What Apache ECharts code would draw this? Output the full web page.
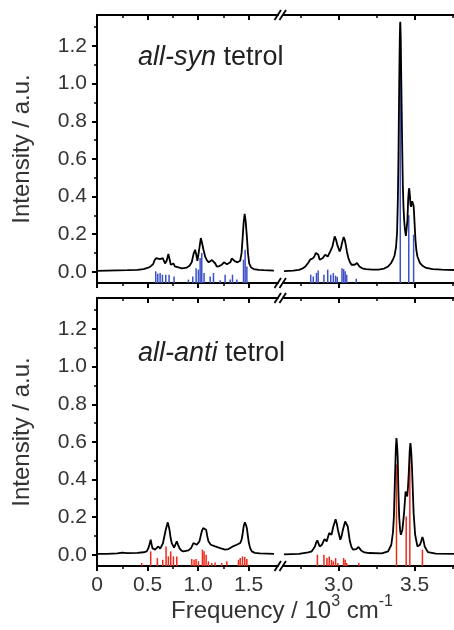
<!DOCTYPE html>
<html><head><meta charset="utf-8">
<script src="https://cdn.jsdelivr.net/npm/echarts@6/dist/echarts.min.js"></script>
<style>html,body{margin:0;padding:0;background:#fff}#c{width:454px;height:630px}</style>
</head><body><div id="c"></div>
<script>
// ---------- data ----------
const xLowTicks = [0, 0.5, 1.0, 1.5];
const xLowMinor = [0.25, 0.75, 1.25];
const xHighTicks = [3.0, 3.5];
const xHighMinor = [2.75, 3.25, 3.75];
const yTicks = [0, 0.2, 0.4, 0.6, 0.8, 1.0, 1.2];
const yMinor = [0.1, 0.3, 0.5, 0.7, 0.9, 1.1, 1.3];
const panelNames = ['all-syn', 'all-anti'];

const synLow = [[0.00,0.005],[0.10,0.006],[0.20,0.007],[0.30,0.008],[0.40,0.010],[0.46,0.014],[0.50,0.020],[0.53,0.028],[0.555,0.040],[0.568,0.060],[0.584,0.072],[0.60,0.068],[0.624,0.067],[0.65,0.072],[0.673,0.044],[0.69,0.06],[0.706,0.094],[0.716,0.07],[0.73,0.037],[0.745,0.045],[0.756,0.044],[0.77,0.028],[0.789,0.02],[0.84,0.018],[0.888,0.022],[0.915,0.032],[0.937,0.05],[0.955,0.095],[0.970,0.117],[0.982,0.09],[0.993,0.058],[1.008,0.11],[1.027,0.179],[1.040,0.150],[1.053,0.117],[1.07,0.08],[1.086,0.062],[1.105,0.05],[1.119,0.046],[1.137,0.062],[1.152,0.07],[1.168,0.045],[1.185,0.027],[1.21,0.03],[1.234,0.037],[1.255,0.05],[1.267,0.053],[1.285,0.04],[1.30,0.032],[1.318,0.05],[1.333,0.07],[1.35,0.06],[1.366,0.055],[1.39,0.05],[1.416,0.058],[1.43,0.10],[1.439,0.17],[1.450,0.26],[1.460,0.308],[1.470,0.27],[1.482,0.188],[1.493,0.10],[1.505,0.044],[1.525,0.022],[1.55,0.014],[1.60,0.010],[1.65,0.008],[1.75,0.006]];
const synSticksLow = [[0.581,0.002],[0.601,-0.011],[0.624,-0.007],[0.647,-0.016],[0.680,-0.016],[0.713,-0.016],[0.762,-0.025],[0.904,-0.042],[0.947,-0.025],[0.980,0.019],[1.003,0.011],[1.020,0.073],[1.036,0.099],[1.059,-0.007],[1.119,-0.025],[1.152,-0.007],[1.218,-0.046],[1.267,-0.016],[1.317,-0.042],[1.340,-0.016],[1.383,-0.042],[1.449,0.064],[1.465,0.117],[1.482,0.028]];
const synHigh = [[2.64,0.003],[2.70,0.006],[2.739,0.010],[2.76,0.016],[2.781,0.028],[2.80,0.048],[2.812,0.064],[2.828,0.07],[2.84,0.081],[2.85,0.10],[2.858,0.108],[2.866,0.09],[2.875,0.064],[2.886,0.07],[2.896,0.073],[2.911,0.09],[2.928,0.081],[2.945,0.108],[2.959,0.134],[2.974,0.188],[2.983,0.17],[2.991,0.143],[3.007,0.108],[3.015,0.125],[3.022,0.152],[3.033,0.184],[3.040,0.17],[3.047,0.143],[3.055,0.105],[3.064,0.073],[3.075,0.05],[3.085,0.037],[3.106,0.037],[3.121,0.046],[3.137,0.028],[3.155,0.018],[3.179,0.014],[3.22,0.011],[3.263,0.011],[3.30,0.017],[3.326,0.028],[3.345,0.045],[3.358,0.065],[3.368,0.085],[3.378,0.13],[3.385,0.21],[3.390,0.38],[3.394,0.60],[3.399,1.00],[3.403,1.25],[3.406,1.329],[3.409,1.25],[3.413,1.00],[3.419,0.648],[3.423,0.46],[3.427,0.347],[3.432,0.27],[3.437,0.223],[3.443,0.19],[3.448,0.184],[3.453,0.27],[3.458,0.382],[3.462,0.43],[3.465,0.444],[3.469,0.41],[3.473,0.36],[3.477,0.345],[3.481,0.36],[3.485,0.375],[3.489,0.382],[3.494,0.35],[3.498,0.294],[3.502,0.23],[3.506,0.17],[3.512,0.115],[3.519,0.081],[3.536,0.046],[3.555,0.03],[3.577,0.02],[3.62,0.014],[3.68,0.011],[3.76,0.009]];
const synSticksHigh = [[2.816,-0.016],[2.833,-0.025],[2.854,-0.007],[2.865,0.007],[2.903,-0.016],[2.928,0.011],[2.948,-0.016],[2.965,-0.007],[2.980,-0.021],[2.991,-0.028],[3.022,0.019],[3.033,0.014],[3.043,0.002],[3.053,-0.016],[3.116,-0.037],[3.406,1.32],[3.462,0.30],[3.494,0.197]];

const antiLow = [[0.00,0.004],[0.10,0.005],[0.20,0.007],[0.25,0.011],[0.30,0.008],[0.40,0.010],[0.46,0.013],[0.492,0.018],[0.508,0.035],[0.518,0.053],[0.531,0.080],[0.540,0.055],[0.548,0.035],[0.574,0.027],[0.59,0.035],[0.607,0.044],[0.625,0.032],[0.64,0.030],[0.652,0.06],[0.663,0.089],[0.683,0.14],[0.700,0.172],[0.716,0.135],[0.728,0.09],[0.739,0.062],[0.762,0.038],[0.776,0.055],[0.789,0.071],[0.80,0.055],[0.815,0.035],[0.835,0.022],[0.855,0.018],[0.904,0.023],[0.93,0.035],[0.954,0.062],[0.97,0.058],[0.987,0.053],[1.013,0.071],[1.036,0.124],[1.050,0.142],[1.062,0.145],[1.079,0.133],[1.09,0.10],[1.102,0.071],[1.125,0.053],[1.168,0.044],[1.218,0.035],[1.267,0.027],[1.30,0.030],[1.343,0.044],[1.383,0.053],[1.416,0.062],[1.430,0.08],[1.439,0.106],[1.450,0.15],[1.462,0.172],[1.472,0.16],[1.482,0.142],[1.492,0.10],[1.502,0.062],[1.515,0.035],[1.531,0.018],[1.56,0.010],[1.61,0.007],[1.75,0.005]];
const antiSticksLow = [[0.442,-0.044],[0.531,0.018],[0.597,-0.018],[0.650,-0.027],[0.683,0.044],[0.706,-0.009],[0.729,0.018],[0.756,-0.009],[0.789,-0.009],[0.937,-0.023],[0.960,-0.027],[0.980,-0.023],[1.003,-0.035],[1.043,0.027],[1.059,0.018],[1.079,0.0],[1.102,-0.035],[1.135,-0.044],[1.168,-0.041],[1.234,-0.044],[1.284,-0.035],[1.399,-0.027],[1.416,-0.018],[1.439,-0.009],[1.462,-0.012],[1.482,-0.023]];
const antiHigh = [[2.64,0.002],[2.739,0.004],[2.80,0.012],[2.823,0.018],[2.844,0.044],[2.852,0.065],[2.860,0.076],[2.867,0.06],[2.875,0.044],[2.890,0.053],[2.907,0.083],[2.921,0.071],[2.938,0.115],[2.953,0.106],[2.965,0.150],[2.980,0.189],[2.988,0.165],[2.995,0.133],[3.011,0.080],[3.020,0.10],[3.028,0.133],[3.043,0.177],[3.052,0.168],[3.060,0.150],[3.067,0.11],[3.074,0.071],[3.085,0.04],[3.096,0.027],[3.116,0.030],[3.131,0.041],[3.148,0.023],[3.17,0.012],[3.20,0.009],[3.284,0.007],[3.326,0.018],[3.347,0.053],[3.358,0.12],[3.364,0.203],[3.372,0.434],[3.377,0.57],[3.381,0.620],[3.385,0.58],[3.389,0.522],[3.394,0.33],[3.399,0.20],[3.405,0.13],[3.410,0.106],[3.420,0.133],[3.431,0.221],[3.441,0.336],[3.447,0.34],[3.452,0.310],[3.457,0.36],[3.462,0.434],[3.468,0.55],[3.473,0.593],[3.478,0.55],[3.483,0.469],[3.494,0.221],[3.504,0.106],[3.519,0.044],[3.536,0.053],[3.545,0.075],[3.552,0.094],[3.559,0.075],[3.567,0.044],[3.588,0.014],[3.64,0.006],[3.76,0.004]];
const antiSticksHigh = [[2.860,0.0],[2.903,0.0],[2.923,-0.018],[2.938,-0.009],[2.953,-0.027],[2.965,-0.035],[2.980,-0.018],[2.995,-0.044],[3.033,-0.018],[3.043,-0.027],[3.053,-0.044],[3.133,-0.044],[3.381,0.48],[3.445,0.203],[3.469,0.575],[3.552,0.027]];

// ---------- layout ----------
const FONT = '"Liberation Sans", Arial, sans-serif';
const TXT = '#333';
const YMIN = -0.06, YMAX = 1.365;
const X_LOW = [0, 1.79], X_HIGH = [2.64, 3.76];
const G = { l0: 97, w0: 181, l1: 284, w1: 178, h: 268, tops: [15, 298] };
const curves = [[synLow, synHigh], [antiLow, antiHigh]];
const sticks = [[synSticksLow, synSticksHigh], [antiSticksLow, antiSticksHigh]];
const stickColors = ['#3c50c8', '#f02818'];

const grids = [], xAxes = [], yAxes = [], series = [];
const fmtX = v => v === 0 ? '0' : v.toFixed(1);
const blk = { color: '#000', width: 2 };
const thin = { color: '#000', width: 1.5 };

[0, 1].forEach(p => {
  [0, 1].forEach(s => {
    const gi = grids.length;
    grids.push({ left: s ? G.l1 : G.l0, top: G.tops[p], width: s ? G.w1 : G.w0, height: G.h });
    const [min, max] = s ? X_HIGH : X_LOW;
    const major = s ? xHighTicks : xLowTicks;
    const minor = s ? xHighMinor : xLowMinor;
    const base = { type: 'value', gridIndex: gi, min, max, splitLine: { show: false }, axisPointer: { show: false } };
    const xi = xAxes.length;
    xAxes.push(
      { ...base, position: 'bottom', axisLine: { show: true, onZero: false, lineStyle: blk },
        axisTick: { show: true, inside: false, length: 5, customValues: major, lineStyle: blk },
        axisLabel: { show: p === 1, customValues: major, formatter: fmtX, margin: 9, fontSize: 21, color: TXT, fontFamily: FONT } },
      { ...base, position: 'bottom', axisLine: { show: false, onZero: false },
        axisTick: { show: true, inside: false, length: 3, customValues: minor, lineStyle: thin },
        axisLabel: { show: false } },
      { ...base, position: 'top', axisLine: { show: true, onZero: false, lineStyle: blk },
        axisTick: { show: true, inside: true, length: 5, customValues: major, lineStyle: blk },
        axisLabel: { show: false } },
      { ...base, position: 'top', axisLine: { show: false, onZero: false },
        axisTick: { show: true, inside: true, length: 3, customValues: minor, lineStyle: thin },
        axisLabel: { show: false } }
    );
    const yi = yAxes.length;
    const ybase = { type: 'value', gridIndex: gi, min: YMIN, max: YMAX, splitLine: { show: false }, axisPointer: { show: false } };
    if (s === 0) {
      yAxes.push(
        { ...ybase, position: 'left', axisLine: { show: true, onZero: false, lineStyle: blk },
          axisTick: { show: true, inside: false, length: 5, customValues: yTicks, lineStyle: blk },
          axisLabel: { customValues: yTicks, formatter: v => v.toFixed(1), margin: 10, fontSize: 21, color: TXT, fontFamily: FONT },
          name: 'Intensity / a.u.', nameLocation: 'middle', nameGap: 63,
          nameTextStyle: { fontSize: 24, color: TXT, fontFamily: FONT } },
        { ...ybase, position: 'left', axisLine: { show: false, onZero: false },
          axisTick: { show: true, inside: false, length: 3, customValues: yMinor, lineStyle: thin },
          axisLabel: { show: false } }
      );
    } else {
      yAxes.push({ ...ybase, show: false });
    }
    series.push({
      type: 'line', xAxisIndex: xi, yAxisIndex: yi, data: curves[p][s], showSymbol: false, symbol: 'none',
      lineStyle: { color: '#000', width: 1.8 }, clip: true, silent: true, z: 3
    });
    const col = stickColors[p];
    series.push({
      type: 'custom', xAxisIndex: xi, yAxisIndex: yi, data: sticks[p][s], clip: true, silent: true, z: 2,
      renderItem: (params, api) => {
        const x = api.value(0), y = api.value(1);
        const a = api.coord([x, YMIN]), b = api.coord([x, y]);
        return { type: 'line', shape: { x1: a[0], y1: a[1], x2: b[0], y2: b[1] }, style: { stroke: col, lineWidth: 1.5 } };
      }
    });
  });
});

// break marks and texts
const graphic = [];
const cx = (G.l0 + G.w0 + G.l1) / 2 - 1;
[0, 1].forEach(p => {
  [G.tops[p], G.tops[p] + G.h].forEach(y => {
    graphic.push({ type: 'line', shape: { x1: cx - 5.5, y1: y + 5, x2: cx + 1, y2: y - 5 }, style: { stroke: '#000', lineWidth: 1.8 } });
    graphic.push({ type: 'line', shape: { x1: cx - 0.5, y1: y + 5, x2: cx + 6, y2: y - 5 }, style: { stroke: '#000', lineWidth: 1.8 } });
  });
  graphic.push({ type: 'text', x: 138, y: G.tops[p] + 29 + p * 13,
    style: { text: '{i|' + panelNames[p] + '} tetrol', fontSize: 27, fontFamily: FONT, fill: '#222',
      rich: { i: { fontStyle: 'italic', fontSize: 27, fontFamily: FONT, fill: '#222' } } } });
});
graphic.push({ type: 'text', x: 282, y: 611,
  style: { text: 'Frequency / 10{s|3} cm{s|-1}', align: 'center', verticalAlign: 'middle',
    fontSize: 24, lineHeight: 34, fontFamily: FONT, fill: TXT,
    rich: { s: { fontSize: 16, verticalAlign: 'top', fontFamily: FONT, fill: TXT } } } });

const chart = echarts.init(document.getElementById('c'), null, { renderer: 'canvas' });
chart.setOption({ animation: false, backgroundColor: '#fff', grid: grids, xAxis: xAxes, yAxis: yAxes, series, graphic });
</script></body></html>
